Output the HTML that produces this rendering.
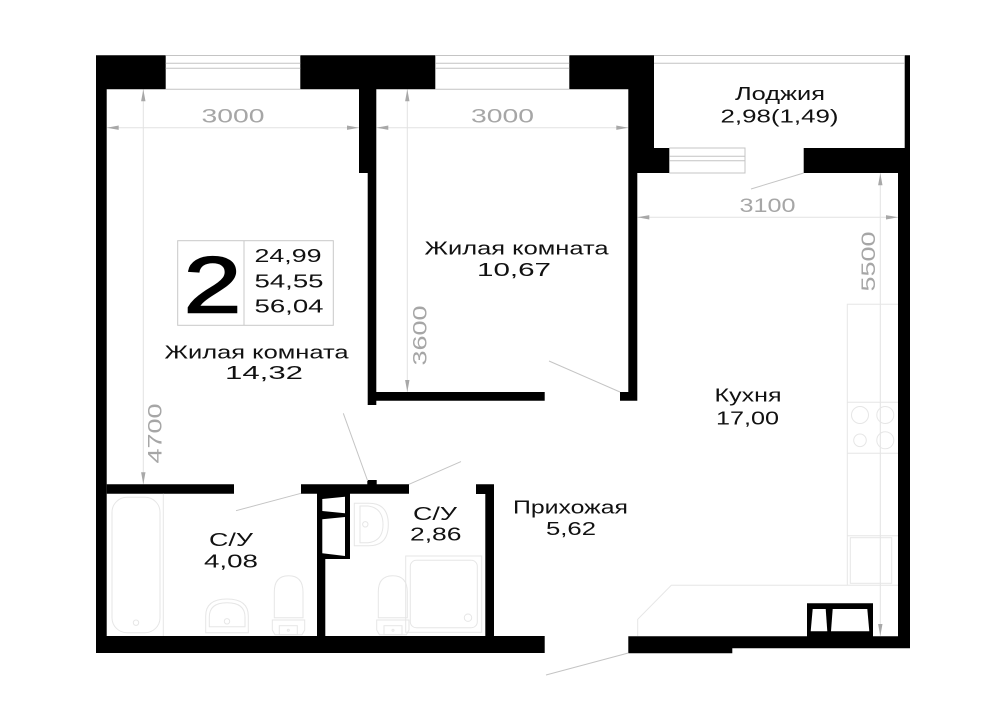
<!DOCTYPE html>
<html><head><meta charset="utf-8"><style>
html,body{margin:0;padding:0;background:#fff}
svg{display:block}
text{font-family:"Liberation Sans",sans-serif}
.t{font-size:18.5px;fill:#111}
.d{font-size:19px;fill:#a6a6a6}
.f{fill:none;stroke:#e6e6e6;stroke-width:1}
.g{stroke:#c4c4c4;stroke-width:1;fill:none}
.dm{stroke:#e2e2e2;stroke-width:1;fill:none}
.a{fill:#a8a8a8}
</style></head><body>
<svg width="1000" height="707" viewBox="0 0 1000 707" xmlns="http://www.w3.org/2000/svg">
<rect width="1000" height="707" fill="#fff"/>
<!-- dimension lines -->
<g class="dm">
<path d="M106.7 127.7H359M376.3 127.7H628.3M637.3 217.3H898M143.3 89.3V484.3M407.3 89.3V392M880.3 173V636"/>
</g>
<g class="a">
<path d="M106.7 127.7l12-2.2v4.4zM359 127.7l-12-2.2v4.4zM376.3 127.7l12-2.2v4.4zM628.3 127.7l-12-2.2v4.4zM637.3 217.3l12-2.2v4.4zM898 217.3l-12-2.2v4.4z"/>
<path d="M143.3 89.3l-2.2 12h4.4zM143.3 484.3l-2.2-12h4.4zM407.3 89.3l-2.2 12h4.4zM407.3 392l-2.2-12h4.4zM880.3 173.3l-2.2 12h4.4zM880.3 636l-2.2-12h4.4z"/>
</g>
<!-- walls -->
<g fill="#000">
<path d="M96 55.3H165.7V89.3H106.7V636H317V493.7H301V484.3H367.3V480H376.7V484.3H409V493.7H350V559H325.3V636H485.3V494H476V484.3H494V636H544.7V653H96Z"/>
<path d="M300.3 55.3H435.3V89.3H376.3V392H544.7V400.7H376.3V405H367.7V173H359V89.3H300.3Z"/>
<path d="M569.3 55.3H654V148H669.3V173H637.3V400.7H620V392H628.3V89.3H569.3Z"/>
<path d="M106.7 484.3H234V493.7H106.7Z"/>
<path d="M904.7 55.3H910V648.3H732.3V653.3H628.3V636.3H807V603.3H873V636.3H898V173H803.7V148H904.7Z"/>
</g>
<g fill="#fff">
<path d="M322.3 499L345 496.7V513.3L322.3 511Z"/>
<path d="M322.3 519.3L345 517V556L322.3 553.3Z"/>
<path d="M812.7 609H825.7L827.3 631.3H810.7Z"/>
<path d="M832.7 609H867.3L869.3 631.3H831Z"/>
</g>
<!-- windows -->
<g class="g">
<path d="M165.7 55.5H300.3M165.7 63.3H300.3M165.7 68.3H300.3M165.7 89.3H300.3"/>
<path d="M435.3 55.5H569.3M435.3 63.3H569.3M435.3 68.3H569.3M435.3 89.3H569.3"/>
<path d="M654 55.5H904.7M654 63.3H904.7"/>
<path d="M669.3 148H745V173H669.3M669.3 156.3H745M669.3 160.7H745"/>
</g>
<!-- doors -->
<g class="g">
<path d="M549 361L620 392M343.3 413.3L367.7 481M409 484.3L461 461.6M301 493.3L236 510.7M628.3 653L546 675M803.7 173L751 189"/>
</g>
<!-- kitchen -->
<g class="f">
<path d="M637.7 636V619.3L671.3 585.3H898"/>
<path d="M898 304.3H847.3V585.3M847.3 402.3H898M847.3 453.3H898M847.3 535.7H898"/>
<rect x="850.3" y="537.7" width="41.4" height="45.6"/>
<circle cx="860" cy="415" r="8.5"/><circle cx="885.3" cy="415" r="8.5"/>
<circle cx="860" cy="440.3" r="6.3"/><circle cx="885.3" cy="440.3" r="8.5"/>
</g>
<!-- bathroom 1 -->
<g class="f">
<path d="M163.3 493.7V636"/>
<rect x="112" y="497.3" width="48" height="135.4" rx="15"/>
<circle cx="136" cy="622.7" r="2.7"/>
<path d="M205.7 632.7V616Q205.7 599 227 599Q248.3 599 248.3 616V632.7Z"/>
<path d="M209.3 626.7V617Q209.3 602.7 227 602.7Q245 602.7 245 617V626.7Z"/>
<circle cx="227" cy="621.3" r="2.7"/>
<path d="M274.3 617.7V592Q274.3 575.7 288.6 575.7Q303 575.7 303 592V617.7Z"/>
<path d="M272.3 620H304.7V630L302 634.7H275L272.3 630Z"/>
<rect x="279.3" y="625.7" width="18" height="9"/>
<circle cx="288.3" cy="630.3" r="1"/>
</g>
<!-- bathroom 2 -->
<g class="f">
<path d="M354.3 503.3H369Q388.3 503.3 388.3 524.5Q388.3 545.7 369 545.7H354.3Z"/>
<path d="M360 506H368Q383 508 383 524.5Q383 541 368 542.7H360Z"/>
<circle cx="365.3" cy="524.3" r="2.7"/>
<rect x="405.7" y="556" width="76" height="76.3"/>
<rect x="410.3" y="560.3" width="67" height="67.4" rx="6"/>
<circle cx="468" cy="617.7" r="3.7"/>
<path d="M378.3 617.7V592Q378.3 575.7 392.8 575.7Q407.3 575.7 407.3 592V617.7Z"/>
<path d="M376.7 620H409V630L406.3 634.7H379.4L376.7 630Z"/>
<rect x="384" y="625.7" width="18" height="9"/>
<circle cx="393" cy="630.3" r="1"/>
</g>
<!-- info box -->
<g stroke="#c8c8c8" fill="none"><rect x="177.7" y="240.7" width="155.6" height="84.6"/><path d="M244 240.7V325.3"/></g>
<text x="183.5" y="312.7" font-size="80" fill="#000" stroke="#000" stroke-width="1.6" textLength="58" lengthAdjust="spacingAndGlyphs">2</text>
<text class="t" x="254.5" y="262" textLength="67" lengthAdjust="spacingAndGlyphs">24,99</text>
<text class="t" x="254.5" y="287.3" textLength="69" lengthAdjust="spacingAndGlyphs">54,55</text>
<text class="t" x="254.5" y="312.7" textLength="69" lengthAdjust="spacingAndGlyphs">56,04</text>
<!-- dimensions -->
<text class="d" x="201.5" y="122.3" textLength="63" lengthAdjust="spacingAndGlyphs">3000</text>
<text class="d" x="471" y="122.3" textLength="63" lengthAdjust="spacingAndGlyphs">3000</text>
<text class="d" x="739.5" y="212" textLength="56" lengthAdjust="spacingAndGlyphs">3100</text>
<text class="d" transform="translate(426.7 365.5) rotate(-90)" textLength="60" lengthAdjust="spacingAndGlyphs">3600</text>
<text class="d" transform="translate(161.5 463.5) rotate(-90)" textLength="60" lengthAdjust="spacingAndGlyphs">4700</text>
<text class="d" transform="translate(875 291.5) rotate(-90)" textLength="60" lengthAdjust="spacingAndGlyphs">5500</text>
<!-- labels -->
<text class="t" x="735" y="100" textLength="90" lengthAdjust="spacingAndGlyphs">Лоджия</text>
<text class="t" x="720.5" y="122.3" textLength="118" lengthAdjust="spacingAndGlyphs">2,98(1,49)</text>
<text class="t" x="164.5" y="358.5" textLength="184" lengthAdjust="spacingAndGlyphs">Жилая комната</text>
<text class="t" x="225" y="379" textLength="78" lengthAdjust="spacingAndGlyphs">14,32</text>
<text class="t" x="424.5" y="254.5" textLength="184" lengthAdjust="spacingAndGlyphs">Жилая комната</text>
<text class="t" x="477" y="276" textLength="74" lengthAdjust="spacingAndGlyphs">10,67</text>
<text class="t" x="714.5" y="401.5" textLength="67" lengthAdjust="spacingAndGlyphs">Кухня</text>
<text class="t" x="716" y="424.5" textLength="63" lengthAdjust="spacingAndGlyphs">17,00</text>
<text class="t" x="513" y="513.5" textLength="115" lengthAdjust="spacingAndGlyphs">Прихожая</text>
<text class="t" x="546" y="535" textLength="50" lengthAdjust="spacingAndGlyphs">5,62</text>
<text class="t" x="413" y="520" textLength="44" lengthAdjust="spacingAndGlyphs">С/У</text>
<text class="t" x="410" y="540.7" textLength="51.5" lengthAdjust="spacingAndGlyphs">2,86</text>
<text class="t" x="209" y="546" textLength="44" lengthAdjust="spacingAndGlyphs">С/У</text>
<text class="t" x="204" y="567.3" textLength="54" lengthAdjust="spacingAndGlyphs">4,08</text>
</svg>
</body></html>
